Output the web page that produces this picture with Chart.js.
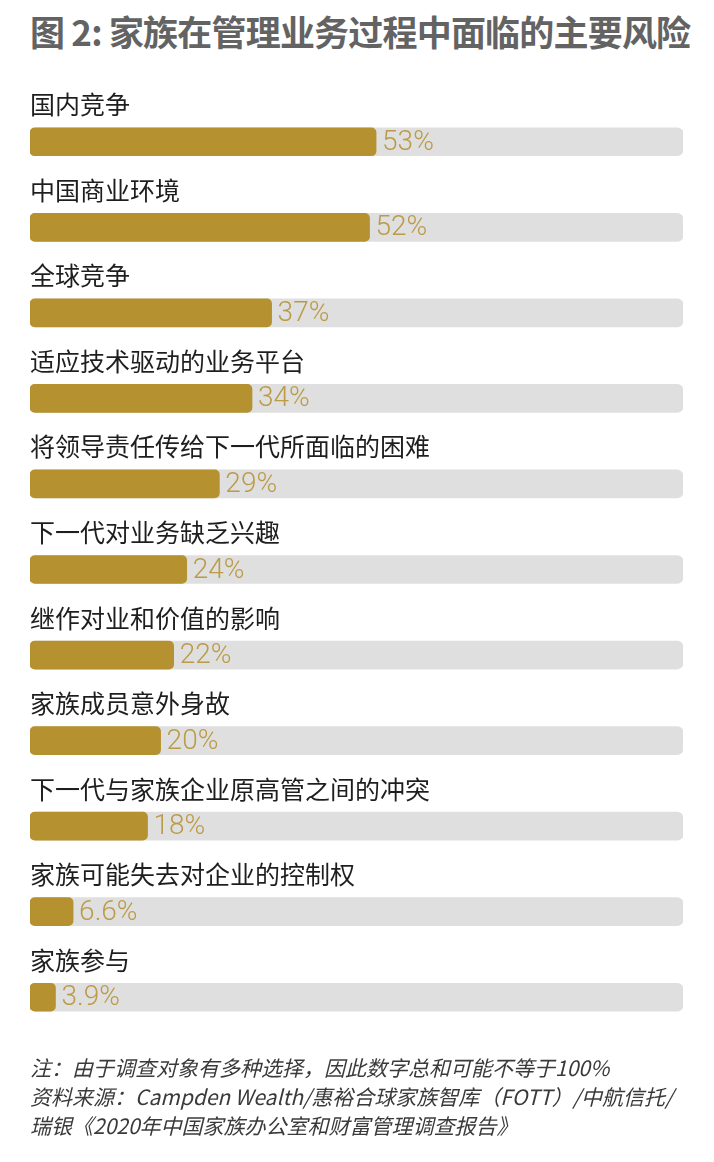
<!DOCTYPE html>
<html>
<head>
<meta charset="utf-8">
<script src="https://cdn.jsdelivr.net/npm/chart.js@4"></script>
<style>
  html, body { margin:0; padding:0; background:#fff; width:714px; height:1162px; overflow:hidden; }
  #title { position:absolute; left:30px; top:5px; font-family:"Noto Sans CJK SC"; font-weight:700; font-size:35px; color:#636363; white-space:nowrap; letter-spacing:-0.8px; }
  #chart { position:absolute; left:0; top:0; }
  #note { position:absolute; left:30px; top:1053px; font-family:"Noto Sans CJK SC"; font-style:italic; font-size:21px; line-height:29px; color:#3a3a3a; white-space:nowrap; }
</style>
</head>
<body>
<div id="title">图 2: 家族在管理业务过程中面临的主要风险</div>
<canvas id="chart" width="714" height="1162"></canvas>
<div id="note">注：由于调查对象有多种选择，因此数字总和可能不等于100%<br>资料来源：Campden Wealth/惠裕合球家族智库（FOTT）/中航信托/<br>瑞银《2020年中国家族办公室和财富管理调查报告》</div>
<script>
const categories = ["国内竞争","中国商业环境","全球竞争","适应技术驱动的业务平台","将领导责任传给下一代所面临的困难","下一代对业务缺乏兴趣","继作对业和价值的影响","家族成员意外身故","下一代与家族企业原高管之间的冲突","家族可能失去对企业的控制权","家族参与"];
const values = [53, 52, 37, 34, 29, 24, 22, 20, 18, 6.6, 3.9];
const trackValues = [100,100,100,100,100,100,100,100,100,100,100];

const labelPlugin = {
  id: 'labels',
  afterDatasetsDraw(chart) {
    const ctx = chart.ctx;
    const meta = chart.getDatasetMeta(0);
    ctx.save();
    meta.data.forEach((el, i) => {
      ctx.textBaseline = 'middle';
      ctx.textAlign = 'left';
      ctx.fillStyle = '#1e1e1e';
      ctx.font = '25px "Noto Sans CJK SC"';
      ctx.fillText(chart.data.labels[i], chart.chartArea.left, el.y - 37);
      ctx.fillStyle = '#bb9b48';
      ctx.font = '300 28px Roboto';
      ctx.fillText(values[i] + '%', el.x + 6, el.y + 1);
    });
    ctx.restore();
  }
};

new Chart(document.getElementById('chart'), {
  type: 'bar',
  data: {
    labels: categories,
    datasets: [
      { data: values, backgroundColor: '#b5912f', borderRadius: 5, borderSkipped: false, grouped: false, barThickness: 28 },
      { data: trackValues, backgroundColor: '#dedfde', borderRadius: 6, borderSkipped: false, grouped: false, barThickness: 28 }
    ]
  },
  options: {
    indexAxis: 'y',
    responsive: false,
    animation: false,
    layout: { padding: { left: 30, right: 31, top: 99, bottom: 122 } },
    scales: {
      x: { display: false, min: 0, max: 100 },
      y: { display: false }
    },
    plugins: { legend: { display: false }, tooltip: { enabled: false } }
  },
  plugins: [labelPlugin]
});
</script>
</body>
</html>
